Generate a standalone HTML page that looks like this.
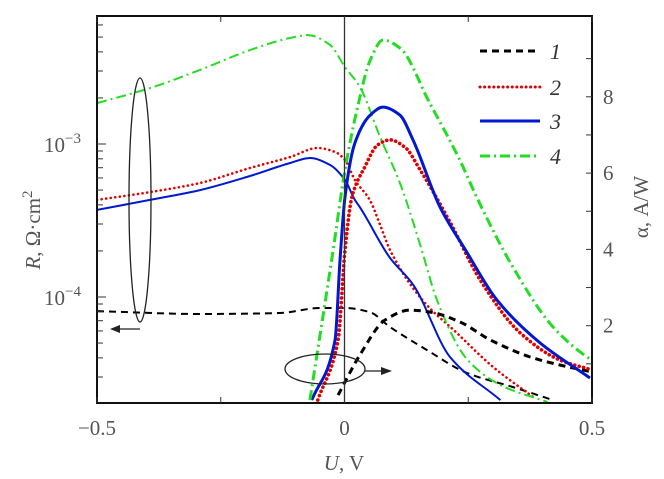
<!DOCTYPE html>
<html><head><meta charset="utf-8"><style>
html,body{margin:0;padding:0;background:#fff;}
svg{display:block;font-family:"Liberation Serif",serif;}
</style></head><body>
<svg id="chart" width="664" height="479" viewBox="0 0 664 479" xmlns="http://www.w3.org/2000/svg">
<g id="marks"></g>
<g id="axes"></g>
</svg>
<script>
const uTicks=[-0.5,0,0.5];
const uTickLabels=["\u22120.5","0","0.5"];
const rDecades=[-3,-4];
const alphaTicks=[2,4,6,8];

const u1R=[-0.5,-0.292,-0.13,-0.05,0.001,0.051,0.092,0.166,0.247,0.34,0.421];
const r1=[8.09e-5,7.74e-5,7.86e-5,8.47e-5,8.47e-5,7.97e-5,6.37e-5,4.51e-5,3.19e-5,2.58e-5,2.12e-5];
const u2R=[-0.5,-0.393,-0.292,-0.191,-0.11,-0.054,-0.019,0.001,0.021,0.051,0.072,0.092,0.158,0.227,0.3,0.381];
const r2=[4.31e-4,4.85e-4,5.56e-4,6.97e-4,8.22e-4,9.42e-4,8.87e-4,7.86e-4,5.82e-4,4.31e-4,2.96e-4,2.03e-4,9.5e-5,5.82e-5,3.49e-5,2.22e-5];
const u3R=[-0.5,-0.393,-0.292,-0.191,-0.11,-0.07,-0.029,0.001,0.021,0.031,0.092,0.139,0.213,0.315];
const r3=[3.71e-4,4.31e-4,5.0e-4,6.18e-4,7.51e-4,8.1e-4,7.29e-4,5.82e-4,4.31e-4,3.87e-4,1.8e-4,1.2e-4,4.06e-5,2.12e-5];
const u4R=[-0.5,-0.393,-0.292,-0.191,-0.11,-0.074,-0.029,0.001,0.031,0.072,0.112,0.153,0.187,0.248,0.315,0.41];
const r4=[1.85e-3,2.32e-3,3.05e-3,4.11e-3,4.93e-3,5.15e-3,4.44e-3,3.18e-3,2.36e-3,1.11e-3,5.56e-4,2.19e-4,9.5e-5,3.9e-5,2.66e-5,2.06e-5];

const u1A=[-0.013,0.031,0.082,0.132,0.172,0.233,0.294,0.375,0.435,0.5];
const a1=[0.18,1.23,2.15,2.41,2.36,2.1,1.63,1.18,0.97,0.79];
const u2A=[-0.054,-0.013,0.001,0.015,0.041,0.067,0.092,0.122,0.153,0.213,0.274,0.355,0.435,0.5];
const a2=[0.05,1.63,3.98,5.37,6.16,6.74,6.87,6.68,6.08,4.72,3.2,1.81,1.1,0.84];
const u3A=[-0.066,-0.019,-0.009,0.001,0.021,0.052,0.078,0.112,0.138,0.193,0.247,0.308,0.395,0.496];
const a3=[0.05,1.63,3.72,5.37,6.79,7.52,7.73,7.52,6.88,5.11,3.93,2.67,1.55,0.63];
const u4A=[-0.07,-0.023,0.001,0.025,0.052,0.078,0.112,0.172,0.233,0.27,0.34,0.421,0.49,0.5];
const a4=[0.05,3.98,6.08,7.65,8.96,9.49,9.28,7.84,6.34,5.29,3.54,1.97,1.18,1.1];

const L=97,Rr=592,T=16,B=403;
const xS=u=>344.5+u*495;
const yR=r=>144-(Math.log10(r)+3)*153;
const yA=a=>402-a*38.15;
const NS="http://www.w3.org/2000/svg";
const marks=document.getElementById('marks'),axes=document.getElementById('axes');
function mk(tag,attrs,parent){const e=document.createElementNS(NS,tag);for(const k in attrs)e.setAttribute(k,attrs[k]);parent.appendChild(e);return e;}
function monotone(pts){const n=pts.length;const dx=[],s=[];for(let i=0;i<n-1;i++){dx.push(pts[i+1][0]-pts[i][0]);s.push((pts[i+1][1]-pts[i][1])/dx[i]);}
const m=[s[0]];for(let i=1;i<n-1;i++){m.push(s[i-1]*s[i]<=0?0:(dx[i-1]+dx[i])*3/((2*dx[i]+dx[i-1])/s[i-1]+(dx[i]+2*dx[i-1])/s[i]));}m.push(s[n-2]);
let d="M"+pts[0][0].toFixed(1)+","+pts[0][1].toFixed(1);
for(let i=0;i<n-1;i++){const h=dx[i];d+=" C"+(pts[i][0]+h/3).toFixed(1)+","+(pts[i][1]+m[i]*h/3).toFixed(1)+" "+(pts[i+1][0]-h/3).toFixed(1)+","+(pts[i+1][1]-m[i+1]*h/3).toFixed(1)+" "+pts[i+1][0].toFixed(1)+","+pts[i+1][1].toFixed(1);}return d;}
const styles={1:{stroke:"#000",dash:"7,5",cap:"butt"},2:{stroke:"#e00000",dash:"0.1,4.5",cap:"round"},3:{stroke:"#0018d0",dash:"",cap:"butt"},4:{stroke:"#22dd22",dash:"10,4,2,4",cap:"butt"}};
const clip=mk('clipPath',{id:'pc'},marks);mk('rect',{x:L,y:T,width:Rr-L,height:B-T},clip);
const g=mk('g',{'clip-path':'url(#pc)'},marks);
function series(us,vs,yf,k,w,name){const pts=us.map((u,i)=>[xS(u),yf(vs[i])]);const s=styles[k];const p=mk('path',{d:monotone(pts),fill:'none',stroke:s.stroke,'stroke-width':(k==2?w+0.6:w),'stroke-dasharray':s.dash,'stroke-linecap':s.cap},g);

}
series(u1R,r1,yR,1,2,'r-curve-1');series(u2R,r2,yR,2,2,'r-curve-2');series(u3R,r3,yR,3,2,'r-curve-3');series(u4R,r4,yR,4,2,'r-curve-4');
series(u1A,a1,yA,1,3,'alpha-curve-1');series(u2A,a2,yA,2,3,'alpha-curve-2');series(u3A,a3,yA,3,3,'alpha-curve-3');series(u4A,a4,yA,4,3,'alpha-curve-4');
const zl=mk('line',{x1:xS(0),x2:xS(0),y1:T,y2:B,stroke:'#333','stroke-width':1.3},axes);


const fr=mk('rect',{x:L,y:T,width:Rr-L,height:B-T,fill:'none',stroke:'#111','stroke-width':2},axes);


const tc="#555";
[-0.5,-0.25,0,0.25,0.5].forEach(u=>{mk('line',{x1:xS(u),x2:xS(u),y1:B,y2:B-6,stroke:'#333','stroke-width':1},axes);mk('line',{x1:xS(u),x2:xS(u),y1:T,y2:T+6,stroke:'#333','stroke-width':1},axes);});
uTicks.forEach((u,i)=>{const t=mk('text',{x:xS(u),y:435,'text-anchor':'middle','font-size':21,fill:tc},axes);t.textContent=uTickLabels[i];

});
for(let e=-5;e<=-2;e++)for(let m=1;m<10;m++){const y=yR(m*Math.pow(10,e));if(y<T||y>B)continue;mk('line',{x1:L,x2:L+(m==1?9:6),y1:y,y2:y,stroke:'#333','stroke-width':1},axes);}
rDecades.forEach(e=>{const t=mk('text',{x:44,y:yR(Math.pow(10,e))+8,'font-size':21,fill:tc},axes);t.innerHTML='10<tspan dy="-9" font-size="15">\u2212'+(-e)+'</tspan>';

});
for(let a=1;a<=9;a++)mk('line',{x1:Rr,x2:Rr-6,y1:yA(a),y2:yA(a),stroke:'#333','stroke-width':1},axes);
alphaTicks.forEach(a=>{const t=mk('text',{x:603,y:yA(a)+7,'font-size':21,fill:tc},axes);t.textContent=a;

});
const xt=mk('text',{x:344,y:470,'text-anchor':'middle','font-size':21,fill:tc},axes);xt.innerHTML='<tspan font-style="italic">U</tspan>, V';


const yl=mk('text',{x:0,y:0,'text-anchor':'middle','font-size':21,fill:tc,transform:'translate(40,230) rotate(-90)'},axes);yl.innerHTML='<tspan font-style="italic">R</tspan>, \u03a9\u00b7cm<tspan dy="-8" font-size="15">2</tspan>';


const yr=mk('text',{x:0,y:0,'text-anchor':'middle','font-size':21,fill:tc,transform:'translate(648,207) rotate(-90)'},axes);yr.textContent='\u03b1, A/W';


const e1=mk('ellipse',{cx:140,cy:200,rx:11,ry:122,fill:'none',stroke:'#222','stroke-width':1.3},axes);


mk('line',{x1:140,y1:329,x2:118,y2:329,stroke:'#222','stroke-width':1.3},axes);
mk('path',{d:'M110,329 L120,325 L120,333 Z',fill:'#222'},axes);
const e2=mk('ellipse',{cx:325,cy:369,rx:40,ry:15,fill:'none',stroke:'#222','stroke-width':1.3},axes);


mk('line',{x1:365,y1:371,x2:383,y2:371,stroke:'#222','stroke-width':1.3},axes);
mk('path',{d:'M392,371 L381,367 L381,375 Z',fill:'#222'},axes);
const lgY=[51,87,121,156];
[1,2,3,4].forEach((k,i)=>{const s=styles[k];const l=mk('line',{x1:480,x2:540,y1:lgY[i],y2:lgY[i],stroke:s.stroke,'stroke-width':3,'stroke-dasharray':s.dash,'stroke-linecap':s.cap},axes);


const t=mk('text',{x:550,y:lgY[i]+8,'font-size':22,'font-style':'italic',fill:'#333'},axes);t.textContent=k;

});
</script>
</body></html>
